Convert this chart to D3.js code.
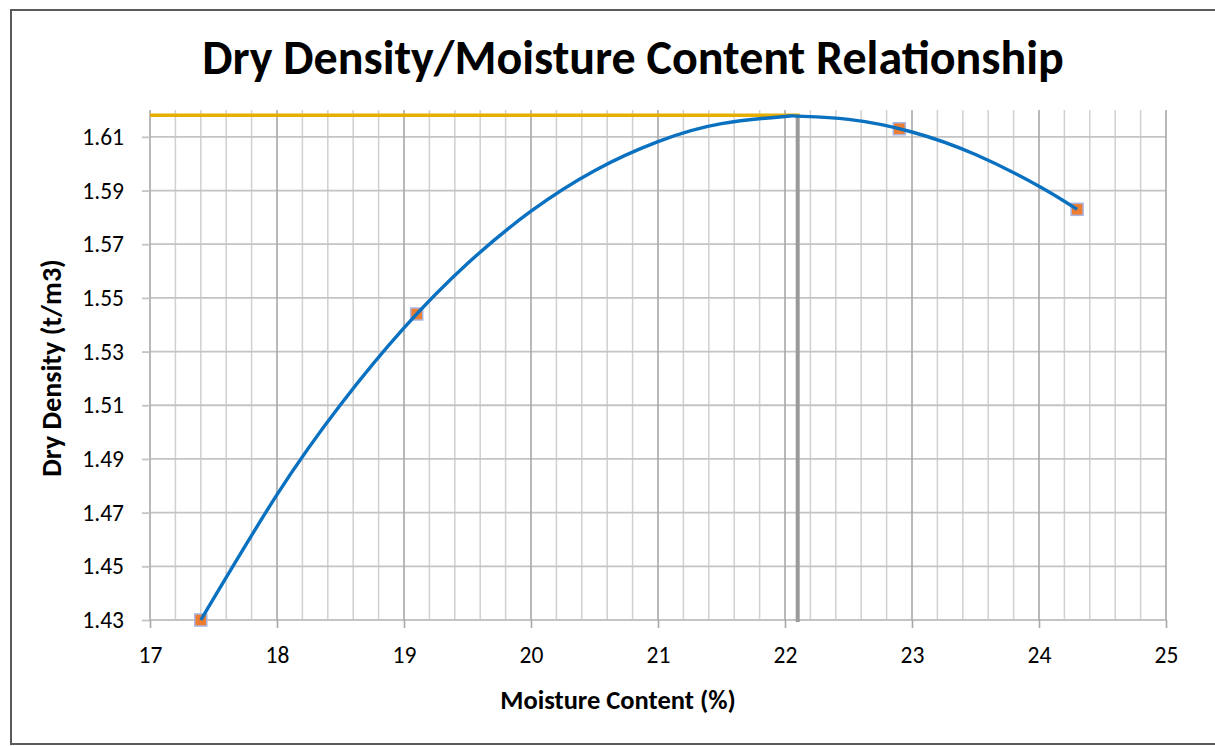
<!DOCTYPE html>
<html>
<head>
<meta charset="utf-8">
<script src="https://cdn.jsdelivr.net/npm/d3@7"></script>
<style>
  html, body { margin: 0; padding: 0; background: #fff; }
  svg { display: block; font-family: Calibri, Carlito, Lato, sans-serif; }
</style>
</head>
<body>
<svg id="chart" width="1215" height="746"></svg>
<script>
// Compaction test results
const moisture = [17.4, 19.1, 22.9, 24.3];          // moisture content (%)
const dryDensity = [1.43, 1.544, 1.613, 1.583];     // dry density (t/m3)

// Polynomial trend curve through the test points
const trendMoisture = [17.4, 18, 18.5, 19, 19.5, 20, 20.5, 21, 21.5, 22, 22.1, 22.5, 23, 23.5, 24, 24.3];
const trendDensity  = [1.43, 1.4767, 1.5102, 1.5388, 1.5628, 1.5823, 1.5974, 1.6082, 1.6149, 1.6176, 1.6177, 1.6165, 1.6118, 1.6034, 1.5916, 1.583];

// Maximum dry density and optimum moisture content
const maxDryDensity = 1.618;
const optimumMoisture = 22.1;

// Axis ticks
const xTicks = [17, 18, 19, 20, 21, 22, 23, 24, 25];
const xMinorTicks = d3.range(0, 41).map(i => 17 + i * 0.2);
const yTicks = [1.43, 1.45, 1.47, 1.49, 1.51, 1.53, 1.55, 1.57, 1.59, 1.61];
const xDomain = [17, 25];
const yDomain = [1.43, 1.62];

const svg = d3.select("#chart");
const plotLeft = 150, plotRight = 1166, plotTop = 110, plotBottom = 620;

const x = d3.scaleLinear().domain(xDomain).range([plotLeft, plotRight]);
const y = d3.scaleLinear().domain(yDomain).range([plotBottom, plotTop]);

// Outer frame
svg.append("rect")
  .attr("x", 11).attr("y", 10).attr("width", 1215).attr("height", 734)
  .attr("fill", "#fff").attr("stroke", "#5a5a5a").attr("stroke-width", 2);

// Title
svg.append("text")
  .attr("x", 633).attr("y", 74)
  .attr("text-anchor", "middle")
  .attr("font-size", 48).attr("font-weight", "bold").attr("fill", "#000")
  .text("Dry Density/Moisture Content Relationship");

// Minor vertical gridlines
svg.append("g").selectAll("line")
  .data(xMinorTicks.filter(v => Math.abs(v - Math.round(v)) > 1e-6))
  .join("line")
  .attr("x1", d => x(d)).attr("x2", d => x(d))
  .attr("y1", plotTop).attr("y2", plotBottom)
  .attr("stroke", "#d0d0d0").attr("stroke-width", 1.5);

// Horizontal gridlines
svg.append("g").selectAll("line")
  .data(yTicks)
  .join("line")
  .attr("x1", plotLeft).attr("x2", plotRight)
  .attr("y1", d => y(d)).attr("y2", d => y(d))
  .attr("stroke", "#c4c4c4").attr("stroke-width", 1.8);

// Major vertical gridlines
svg.append("g").selectAll("line")
  .data(xTicks)
  .join("line")
  .attr("x1", d => x(d)).attr("x2", d => x(d))
  .attr("y1", plotTop).attr("y2", plotBottom)
  .attr("stroke", "#a8a8a8").attr("stroke-width", 1.6);

// Y axis
const yAxis = svg.append("g")
  .attr("transform", `translate(${plotLeft},0)`)
  .call(d3.axisLeft(y).tickValues(yTicks).tickSizeInner(8).tickSizeOuter(0)
        .tickPadding(18).tickFormat(d3.format(".2f")));
yAxis.select(".domain").remove();
yAxis.selectAll(".tick line").attr("stroke", "#c4c4c4").attr("stroke-width", 1.8);
yAxis.selectAll(".tick text").attr("font-size", 23.5).attr("fill", "#000")
  .attr("font-family", "Calibri, Carlito, Lato, sans-serif");

// X axis
const xAxis = svg.append("g")
  .attr("transform", `translate(0,${plotBottom})`)
  .call(d3.axisBottom(x).tickValues(xTicks).tickSizeInner(8).tickSizeOuter(0)
        .tickPadding(18).tickFormat(d3.format("d")));
xAxis.select(".domain").remove();
xAxis.selectAll(".tick line").attr("stroke", "#a8a8a8").attr("stroke-width", 1.6);
xAxis.selectAll(".tick text").attr("font-size", 23.5).attr("fill", "#000")
  .attr("font-family", "Calibri, Carlito, Lato, sans-serif");

// Axis titles
svg.append("text")
  .attr("x", 618).attr("y", 709)
  .attr("text-anchor", "middle")
  .attr("font-size", 26.5).attr("font-weight", "bold")
  .text("Moisture Content (%)");

svg.append("text")
  .attr("transform", `translate(61,368) rotate(-90)`)
  .attr("text-anchor", "middle")
  .attr("font-size", 28).attr("font-weight", "bold")
  .text("Dry Density (t/m3)");

// Optimum moisture marker line
svg.append("line")
  .attr("x1", x(optimumMoisture)).attr("x2", x(optimumMoisture))
  .attr("y1", y(maxDryDensity)).attr("y2", y(yDomain[0]) + 2)
  .attr("stroke", "#9a9a9a").attr("stroke-width", 4);

// Maximum dry density line
svg.append("line")
  .attr("x1", x(xDomain[0])).attr("x2", x(optimumMoisture) + 2)
  .attr("y1", y(maxDryDensity)).attr("y2", y(maxDryDensity))
  .attr("stroke", "#e6ae00").attr("stroke-width", 3.5);

// Test points
svg.append("g").selectAll("rect")
  .data(moisture.map((m, i) => [m, dryDensity[i]]))
  .join("rect")
  .attr("x", d => x(d[0]) - 6).attr("y", d => y(d[1]) - 6)
  .attr("width", 12).attr("height", 12)
  .attr("fill", "#ed7d31").attr("stroke", "#a9b6e2").attr("stroke-width", 1.5);

// Trend curve
const line = d3.line()
  .x(d => x(d[0])).y(d => y(d[1]))
  .curve(d3.curveNatural);
svg.append("path")
  .datum(trendMoisture.map((m, i) => [m, trendDensity[i]]))
  .attr("d", line)
  .attr("fill", "none").attr("stroke", "#0a70c0").attr("stroke-width", 3.4);
</script>
</body>
</html>
